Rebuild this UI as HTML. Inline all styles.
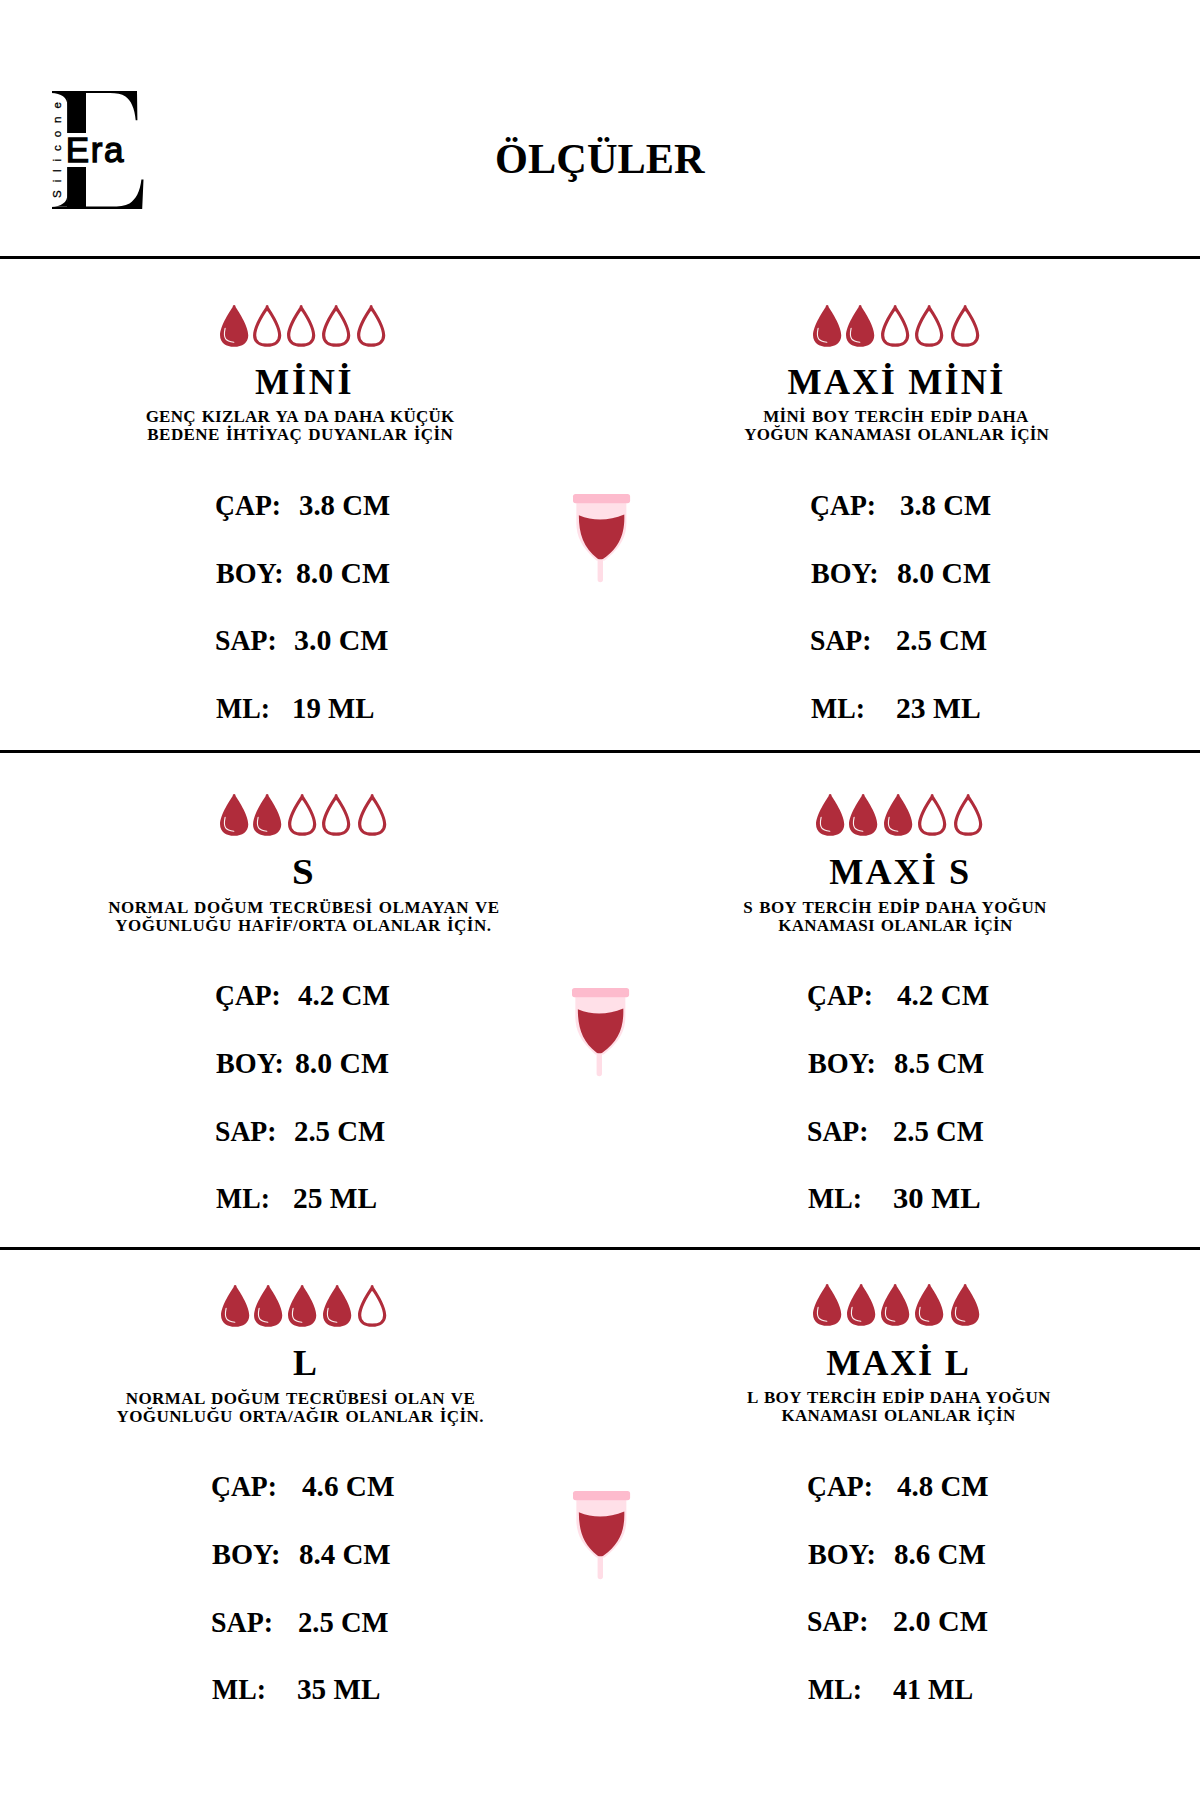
<!DOCTYPE html><html lang="tr"><head><meta charset="utf-8"><title>Ölçüler</title><style>
html,body{margin:0;padding:0;background:#fff}
body{width:1200px;height:1800px;position:relative;overflow:hidden;font-family:"Liberation Serif",serif;color:#000}
.a{position:absolute;display:block}
.x{position:absolute;white-space:pre;font-weight:bold;line-height:1;transform-origin:0 0;color:#000;margin:0;padding:0}
h1,h2,p,dl,dt,dd{margin:0;padding:0}
.ln{position:absolute;left:0;width:1200px;height:3px;background:#000}
</style></head><body>
<header>
<div class="a" id="logo" style="left:0;top:0;width:200px;height:240px">
<div class="a" id="bigE" style="left:44.2px;top:59.2px;width:37.3px;height:180px;overflow:hidden;font:normal 180px/1 'Liberation Serif',serif;transform-origin:0 0;transform:scaleX(1.138);white-space:pre">E</div>
<div class="a" style="left:48px;top:93.2px;width:19.4px;height:8px;background:#fff"></div>
<div class="a" style="left:47px;top:88px;width:4.5px;height:124px;background:#fff"></div>
<div class="a" style="left:48px;top:198.5px;width:19.4px;height:8.1px;background:#fff"></div>
<svg class="a" style="left:40px;top:80px" width="120" height="140" viewBox="40 80 120 140">
<path d="M86 91 H137 L137.4 120.3 H135.7 C134.6 108.5 131 100.5 125.5 96.6 C121.5 93.9 116.5 93.1 110 93.1 H86 Z" fill="#000"/>
<path d="M86 208.9 H142.2 L143.5 179.6 H141.4 C140 191.5 136 199.5 129.5 203.4 C125 205.9 119 206.6 111 206.6 H86 Z" fill="#000"/>
<path d="M51.4 93 C61 93.4 67.5 97 67.5 106 V93 Z M51.4 206.8 C61 206.4 67.5 203 67.5 194 V206.8 Z" fill="#000"/>
</svg>
<div class="a" style="left:60px;top:133.2px;width:100px;height:34.3px;background:#fff"></div>
<div class="a" id="era" style="left:65.8px;top:132.4px;font:normal 35px/1 'Liberation Sans',sans-serif;white-space:pre;-webkit-text-stroke:1.3px #000;letter-spacing:1.6px">Era</div>
<div class="a" id="sil" style="left:51px;top:198.2px;font:normal 11.6px/1 'Liberation Sans',sans-serif;white-space:pre;letter-spacing:7.9px;-webkit-text-stroke:.3px #000;transform-origin:0 0;transform:rotate(-90deg)">Silicone</div>
</div>
<h1 class="x" style="left:495.00px;top:137.97px;font-size:42.3px;letter-spacing:0.083px">ÖLÇÜLER</h1>
</header>
<main>
<div class="ln" style="top:256.3px"></div>
<section class="row">
<article class="size">
<div class="drops"><svg class="a" style="left:218.85px;top:304.00px" width="30.3" height="44.4" viewBox="-1 -1 30.3 44.4"><path d="M14.15 0 C17.7 5.0 28.25 20.52 28.25 30.46 C28.25 37.69 22.24 41.8 14.15 41.8 C6.06 41.8 0.05 37.69 0.05 30.46 C0.05 20.52 10.6 5.0 14.15 0 Z M14.15 0.1 a1.45 1.45 0 1 1 -0.01 0 Z" fill="#b02c3b"/><path d="M5.1 23.3 C4.3 27 3.9 31.3 5.7 33.9 C7.4 36.2 10.5 36.8 13.8 37.3" fill="none" stroke="#fff" stroke-width="1.15" stroke-linecap="round" opacity=".93"/></svg><svg class="a" style="left:252.35px;top:304.00px" width="30.3" height="44.4" viewBox="-1 -1 30.3 44.4"><clipPath id="dc2"><path d="M14.15 0 C17.7 5.0 28.25 20.52 28.25 30.46 C28.25 37.69 22.24 41.8 14.15 41.8 C6.06 41.8 0.05 37.69 0.05 30.46 C0.05 20.52 10.6 5.0 14.15 0 Z M14.15 0.1 a1.45 1.45 0 1 1 -0.01 0 Z"/></clipPath><path d="M14.15 0 C17.7 5.0 28.25 20.52 28.25 30.46 C28.25 37.69 22.24 41.8 14.15 41.8 C6.06 41.8 0.05 37.69 0.05 30.46 C0.05 20.52 10.6 5.0 14.15 0 Z M14.15 0.1 a1.45 1.45 0 1 1 -0.01 0 Z" fill="none" stroke="#b02c3b" stroke-width="6.4" clip-path="url(#dc2)"/></svg><svg class="a" style="left:286.45px;top:304.00px" width="30.3" height="44.4" viewBox="-1 -1 30.3 44.4"><clipPath id="dc3"><path d="M14.15 0 C17.7 5.0 28.25 20.52 28.25 30.46 C28.25 37.69 22.24 41.8 14.15 41.8 C6.06 41.8 0.05 37.69 0.05 30.46 C0.05 20.52 10.6 5.0 14.15 0 Z M14.15 0.1 a1.45 1.45 0 1 1 -0.01 0 Z"/></clipPath><path d="M14.15 0 C17.7 5.0 28.25 20.52 28.25 30.46 C28.25 37.69 22.24 41.8 14.15 41.8 C6.06 41.8 0.05 37.69 0.05 30.46 C0.05 20.52 10.6 5.0 14.15 0 Z M14.15 0.1 a1.45 1.45 0 1 1 -0.01 0 Z" fill="none" stroke="#b02c3b" stroke-width="6.4" clip-path="url(#dc3)"/></svg><svg class="a" style="left:320.95px;top:304.00px" width="30.3" height="44.4" viewBox="-1 -1 30.3 44.4"><clipPath id="dc4"><path d="M14.15 0 C17.7 5.0 28.25 20.52 28.25 30.46 C28.25 37.69 22.24 41.8 14.15 41.8 C6.06 41.8 0.05 37.69 0.05 30.46 C0.05 20.52 10.6 5.0 14.15 0 Z M14.15 0.1 a1.45 1.45 0 1 1 -0.01 0 Z"/></clipPath><path d="M14.15 0 C17.7 5.0 28.25 20.52 28.25 30.46 C28.25 37.69 22.24 41.8 14.15 41.8 C6.06 41.8 0.05 37.69 0.05 30.46 C0.05 20.52 10.6 5.0 14.15 0 Z M14.15 0.1 a1.45 1.45 0 1 1 -0.01 0 Z" fill="none" stroke="#b02c3b" stroke-width="6.4" clip-path="url(#dc4)"/></svg><svg class="a" style="left:356.45px;top:304.00px" width="30.3" height="44.4" viewBox="-1 -1 30.3 44.4"><clipPath id="dc5"><path d="M14.15 0 C17.7 5.0 28.25 20.52 28.25 30.46 C28.25 37.69 22.24 41.8 14.15 41.8 C6.06 41.8 0.05 37.69 0.05 30.46 C0.05 20.52 10.6 5.0 14.15 0 Z M14.15 0.1 a1.45 1.45 0 1 1 -0.01 0 Z"/></clipPath><path d="M14.15 0 C17.7 5.0 28.25 20.52 28.25 30.46 C28.25 37.69 22.24 41.8 14.15 41.8 C6.06 41.8 0.05 37.69 0.05 30.46 C0.05 20.52 10.6 5.0 14.15 0 Z M14.15 0.1 a1.45 1.45 0 1 1 -0.01 0 Z" fill="none" stroke="#b02c3b" stroke-width="6.4" clip-path="url(#dc5)"/></svg></div>
<h2 class="x" style="left:255.00px;top:363.98px;font-size:36.2px;letter-spacing:2.750px">MİNİ</h2>
<p class="x" style="left:145.65px;top:408.06px;font-size:17.0px;letter-spacing:0.226px;word-spacing:1.5px">GENÇ KIZLAR YA DA DAHA KÜÇÜK</p>
<p class="x" style="left:147.35px;top:425.56px;font-size:17.0px;letter-spacing:0.431px;word-spacing:1.5px">BEDENE İHTİYAÇ DUYANLAR İÇİN</p>
<dl>
<dt class="x" style="left:215.08px;top:491.05px;font-size:29.2px;transform:scaleX(0.9466)">ÇAP:</dt><dd class="x" style="left:298.61px;top:491.05px;font-size:29.2px;transform:scaleX(0.9856)">3.8 CM</dd>
<dt class="x" style="left:216.02px;top:558.54px;font-size:29.2px;transform:scaleX(0.9621)">BOY:</dt><dd class="x" style="left:295.58px;top:558.54px;font-size:29.2px;transform:scaleX(1.0188)">8.0 CM</dd>
<dt class="x" style="left:215.07px;top:626.25px;font-size:29.2px;transform:scaleX(0.9514)">SAP:</dt><dd class="x" style="left:294.28px;top:626.25px;font-size:29.2px;transform:scaleX(1.0232)">3.0 CM</dd>
<dt class="x" style="left:216.02px;top:693.85px;font-size:29.2px;transform:scaleX(0.9533)">ML:</dt><dd class="x" style="left:292.18px;top:693.85px;font-size:29.2px;transform:scaleX(0.9863)">19 ML</dd>
</dl>
</article>
<svg class="a" style="left:571.90px;top:492.75px" width="60" height="92" viewBox="-1 -1 60 92">
<path d="M24.6 63 H30 V85.6 A2.7 2.7 0 0 1 24.6 85.6 Z" fill="#ffdde6"/>
<path d="M3.35 8 V29 C3.5 42 8 53 23.5 66.6 H31.5 C48.5 53 53.2 42 53.35 29 V8 Z" fill="#ffe0e8"/>
<path d="M5.85 21.25 C13 24.3 20 25.4 27.1 25.4 C35 25.4 43 23.8 51.3 20.4 C52 40 46.5 53 30.6 64.6 Q30 65.2 29 65.2 H26 Q25 65.2 24.4 64.6 C10.5 53.5 5.8 40 5.85 21.25 Z" fill="#b02c3b"/>
<rect x="0" y="0" width="57.1" height="9.2" rx="2.6" fill="#fdbbcd"/>
</svg>
<article class="size">
<div class="drops"><svg class="a" style="left:811.85px;top:304.00px" width="30.3" height="44.4" viewBox="-1 -1 30.3 44.4"><path d="M14.15 0 C17.7 5.0 28.25 20.52 28.25 30.46 C28.25 37.69 22.24 41.8 14.15 41.8 C6.06 41.8 0.05 37.69 0.05 30.46 C0.05 20.52 10.6 5.0 14.15 0 Z M14.15 0.1 a1.45 1.45 0 1 1 -0.01 0 Z" fill="#b02c3b"/><path d="M5.1 23.3 C4.3 27 3.9 31.3 5.7 33.9 C7.4 36.2 10.5 36.8 13.8 37.3" fill="none" stroke="#fff" stroke-width="1.15" stroke-linecap="round" opacity=".93"/></svg><svg class="a" style="left:845.35px;top:304.00px" width="30.3" height="44.4" viewBox="-1 -1 30.3 44.4"><path d="M14.15 0 C17.7 5.0 28.25 20.52 28.25 30.46 C28.25 37.69 22.24 41.8 14.15 41.8 C6.06 41.8 0.05 37.69 0.05 30.46 C0.05 20.52 10.6 5.0 14.15 0 Z M14.15 0.1 a1.45 1.45 0 1 1 -0.01 0 Z" fill="#b02c3b"/><path d="M5.1 23.3 C4.3 27 3.9 31.3 5.7 33.9 C7.4 36.2 10.5 36.8 13.8 37.3" fill="none" stroke="#fff" stroke-width="1.15" stroke-linecap="round" opacity=".93"/></svg><svg class="a" style="left:879.55px;top:304.00px" width="30.3" height="44.4" viewBox="-1 -1 30.3 44.4"><clipPath id="dc8"><path d="M14.15 0 C17.7 5.0 28.25 20.52 28.25 30.46 C28.25 37.69 22.24 41.8 14.15 41.8 C6.06 41.8 0.05 37.69 0.05 30.46 C0.05 20.52 10.6 5.0 14.15 0 Z M14.15 0.1 a1.45 1.45 0 1 1 -0.01 0 Z"/></clipPath><path d="M14.15 0 C17.7 5.0 28.25 20.52 28.25 30.46 C28.25 37.69 22.24 41.8 14.15 41.8 C6.06 41.8 0.05 37.69 0.05 30.46 C0.05 20.52 10.6 5.0 14.15 0 Z M14.15 0.1 a1.45 1.45 0 1 1 -0.01 0 Z" fill="none" stroke="#b02c3b" stroke-width="6.4" clip-path="url(#dc8)"/></svg><svg class="a" style="left:913.75px;top:304.00px" width="30.3" height="44.4" viewBox="-1 -1 30.3 44.4"><clipPath id="dc9"><path d="M14.15 0 C17.7 5.0 28.25 20.52 28.25 30.46 C28.25 37.69 22.24 41.8 14.15 41.8 C6.06 41.8 0.05 37.69 0.05 30.46 C0.05 20.52 10.6 5.0 14.15 0 Z M14.15 0.1 a1.45 1.45 0 1 1 -0.01 0 Z"/></clipPath><path d="M14.15 0 C17.7 5.0 28.25 20.52 28.25 30.46 C28.25 37.69 22.24 41.8 14.15 41.8 C6.06 41.8 0.05 37.69 0.05 30.46 C0.05 20.52 10.6 5.0 14.15 0 Z M14.15 0.1 a1.45 1.45 0 1 1 -0.01 0 Z" fill="none" stroke="#b02c3b" stroke-width="6.4" clip-path="url(#dc9)"/></svg><svg class="a" style="left:949.55px;top:304.00px" width="30.3" height="44.4" viewBox="-1 -1 30.3 44.4"><clipPath id="dc10"><path d="M14.15 0 C17.7 5.0 28.25 20.52 28.25 30.46 C28.25 37.69 22.24 41.8 14.15 41.8 C6.06 41.8 0.05 37.69 0.05 30.46 C0.05 20.52 10.6 5.0 14.15 0 Z M14.15 0.1 a1.45 1.45 0 1 1 -0.01 0 Z"/></clipPath><path d="M14.15 0 C17.7 5.0 28.25 20.52 28.25 30.46 C28.25 37.69 22.24 41.8 14.15 41.8 C6.06 41.8 0.05 37.69 0.05 30.46 C0.05 20.52 10.6 5.0 14.15 0 Z M14.15 0.1 a1.45 1.45 0 1 1 -0.01 0 Z" fill="none" stroke="#b02c3b" stroke-width="6.4" clip-path="url(#dc10)"/></svg></div>
<h2 class="x" style="left:787.60px;top:363.78px;font-size:36.2px;letter-spacing:2.206px">MAXİ MİNİ</h2>
<p class="x" style="left:763.15px;top:408.06px;font-size:17.0px;letter-spacing:0.333px;word-spacing:1.5px">MİNİ BOY TERCİH EDİP DAHA</p>
<p class="x" style="left:744.25px;top:425.56px;font-size:17.0px;letter-spacing:0.263px;word-spacing:1.5px">YOĞUN KANAMASI OLANLAR İÇİN</p>
<dl>
<dt class="x" style="left:810.38px;top:491.05px;font-size:29.2px;transform:scaleX(0.9466)">ÇAP:</dt><dd class="x" style="left:899.91px;top:491.05px;font-size:29.2px;transform:scaleX(0.9867)">3.8 CM</dd>
<dt class="x" style="left:811.32px;top:558.54px;font-size:29.2px;transform:scaleX(0.9621)">BOY:</dt><dd class="x" style="left:897.18px;top:558.54px;font-size:29.2px;transform:scaleX(1.0166)">8.0 CM</dd>
<dt class="x" style="left:810.38px;top:626.25px;font-size:29.2px;transform:scaleX(0.9481)">SAP:</dt><dd class="x" style="left:896.07px;top:626.25px;font-size:29.2px;transform:scaleX(0.9850)">2.5 CM</dd>
<dt class="x" style="left:811.32px;top:693.85px;font-size:29.2px;transform:scaleX(0.9533)">ML:</dt><dd class="x" style="left:895.63px;top:693.85px;font-size:29.2px;transform:scaleX(1.0160)">23 ML</dd>
</dl>
</article>
</section>
<div class="ln" style="top:750.0px"></div>
<section class="row">
<article class="size">
<div class="drops"><svg class="a" style="left:219.05px;top:793.30px" width="30.3" height="44.4" viewBox="-1 -1 30.3 44.4"><path d="M14.15 0 C17.7 5.0 28.25 20.52 28.25 30.46 C28.25 37.69 22.24 41.8 14.15 41.8 C6.06 41.8 0.05 37.69 0.05 30.46 C0.05 20.52 10.6 5.0 14.15 0 Z M14.15 0.1 a1.45 1.45 0 1 1 -0.01 0 Z" fill="#b02c3b"/><path d="M5.1 23.3 C4.3 27 3.9 31.3 5.7 33.9 C7.4 36.2 10.5 36.8 13.8 37.3" fill="none" stroke="#fff" stroke-width="1.15" stroke-linecap="round" opacity=".93"/></svg><svg class="a" style="left:252.35px;top:793.30px" width="30.3" height="44.4" viewBox="-1 -1 30.3 44.4"><path d="M14.15 0 C17.7 5.0 28.25 20.52 28.25 30.46 C28.25 37.69 22.24 41.8 14.15 41.8 C6.06 41.8 0.05 37.69 0.05 30.46 C0.05 20.52 10.6 5.0 14.15 0 Z M14.15 0.1 a1.45 1.45 0 1 1 -0.01 0 Z" fill="#b02c3b"/><path d="M5.1 23.3 C4.3 27 3.9 31.3 5.7 33.9 C7.4 36.2 10.5 36.8 13.8 37.3" fill="none" stroke="#fff" stroke-width="1.15" stroke-linecap="round" opacity=".93"/></svg><svg class="a" style="left:286.85px;top:793.30px" width="30.3" height="44.4" viewBox="-1 -1 30.3 44.4"><clipPath id="dc13"><path d="M14.15 0 C17.7 5.0 28.25 20.52 28.25 30.46 C28.25 37.69 22.24 41.8 14.15 41.8 C6.06 41.8 0.05 37.69 0.05 30.46 C0.05 20.52 10.6 5.0 14.15 0 Z M14.15 0.1 a1.45 1.45 0 1 1 -0.01 0 Z"/></clipPath><path d="M14.15 0 C17.7 5.0 28.25 20.52 28.25 30.46 C28.25 37.69 22.24 41.8 14.15 41.8 C6.06 41.8 0.05 37.69 0.05 30.46 C0.05 20.52 10.6 5.0 14.15 0 Z M14.15 0.1 a1.45 1.45 0 1 1 -0.01 0 Z" fill="none" stroke="#b02c3b" stroke-width="6.4" clip-path="url(#dc13)"/></svg><svg class="a" style="left:321.05px;top:793.30px" width="30.3" height="44.4" viewBox="-1 -1 30.3 44.4"><clipPath id="dc14"><path d="M14.15 0 C17.7 5.0 28.25 20.52 28.25 30.46 C28.25 37.69 22.24 41.8 14.15 41.8 C6.06 41.8 0.05 37.69 0.05 30.46 C0.05 20.52 10.6 5.0 14.15 0 Z M14.15 0.1 a1.45 1.45 0 1 1 -0.01 0 Z"/></clipPath><path d="M14.15 0 C17.7 5.0 28.25 20.52 28.25 30.46 C28.25 37.69 22.24 41.8 14.15 41.8 C6.06 41.8 0.05 37.69 0.05 30.46 C0.05 20.52 10.6 5.0 14.15 0 Z M14.15 0.1 a1.45 1.45 0 1 1 -0.01 0 Z" fill="none" stroke="#b02c3b" stroke-width="6.4" clip-path="url(#dc14)"/></svg><svg class="a" style="left:356.85px;top:793.30px" width="30.3" height="44.4" viewBox="-1 -1 30.3 44.4"><clipPath id="dc15"><path d="M14.15 0 C17.7 5.0 28.25 20.52 28.25 30.46 C28.25 37.69 22.24 41.8 14.15 41.8 C6.06 41.8 0.05 37.69 0.05 30.46 C0.05 20.52 10.6 5.0 14.15 0 Z M14.15 0.1 a1.45 1.45 0 1 1 -0.01 0 Z"/></clipPath><path d="M14.15 0 C17.7 5.0 28.25 20.52 28.25 30.46 C28.25 37.69 22.24 41.8 14.15 41.8 C6.06 41.8 0.05 37.69 0.05 30.46 C0.05 20.52 10.6 5.0 14.15 0 Z M14.15 0.1 a1.45 1.45 0 1 1 -0.01 0 Z" fill="none" stroke="#b02c3b" stroke-width="6.4" clip-path="url(#dc15)"/></svg></div>
<h2 class="x" style="left:292.10px;top:853.88px;font-size:36.2px;transform:scaleX(1.0758)">S</h2>
<p class="x" style="left:108.25px;top:898.76px;font-size:17.0px;letter-spacing:0.514px;word-spacing:1.5px">NORMAL DOĞUM TECRÜBESİ OLMAYAN VE</p>
<p class="x" style="left:115.25px;top:916.76px;font-size:17.0px;letter-spacing:0.455px;word-spacing:1.5px">YOĞUNLUĞU HAFİF/ORTA OLANLAR İÇİN.</p>
<dl>
<dt class="x" style="left:214.68px;top:981.45px;font-size:29.2px;transform:scaleX(0.9435)">ÇAP:</dt><dd class="x" style="left:298.10px;top:981.45px;font-size:29.2px;transform:scaleX(0.9956)">4.2 CM</dd>
<dt class="x" style="left:215.62px;top:1049.25px;font-size:29.2px;transform:scaleX(0.9651)">BOY:</dt><dd class="x" style="left:295.28px;top:1049.25px;font-size:29.2px;transform:scaleX(1.0188)">8.0 CM</dd>
<dt class="x" style="left:214.68px;top:1116.75px;font-size:29.2px;transform:scaleX(0.9481)">SAP:</dt><dd class="x" style="left:293.57px;top:1116.75px;font-size:29.2px;transform:scaleX(0.9873)">2.5 CM</dd>
<dt class="x" style="left:215.63px;top:1184.25px;font-size:29.2px;transform:scaleX(0.9495)">ML:</dt><dd class="x" style="left:293.14px;top:1184.25px;font-size:29.2px;transform:scaleX(1.0074)">25 ML</dd>
</dl>
</article>
<svg class="a" style="left:571.00px;top:986.90px" width="60" height="92" viewBox="-1 -1 60 92">
<path d="M24.6 63 H30 V85.6 A2.7 2.7 0 0 1 24.6 85.6 Z" fill="#ffdde6"/>
<path d="M3.35 8 V29 C3.5 42 8 53 23.5 66.6 H31.5 C48.5 53 53.2 42 53.35 29 V8 Z" fill="#ffe0e8"/>
<path d="M5.85 21.25 C13 24.3 20 25.4 27.1 25.4 C35 25.4 43 23.8 51.3 20.4 C52 40 46.5 53 30.6 64.6 Q30 65.2 29 65.2 H26 Q25 65.2 24.4 64.6 C10.5 53.5 5.8 40 5.85 21.25 Z" fill="#b02c3b"/>
<rect x="0" y="0" width="57.1" height="9.2" rx="2.6" fill="#fdbbcd"/>
</svg>
<article class="size">
<div class="drops"><svg class="a" style="left:814.85px;top:793.30px" width="30.3" height="44.4" viewBox="-1 -1 30.3 44.4"><path d="M14.15 0 C17.7 5.0 28.25 20.52 28.25 30.46 C28.25 37.69 22.24 41.8 14.15 41.8 C6.06 41.8 0.05 37.69 0.05 30.46 C0.05 20.52 10.6 5.0 14.15 0 Z M14.15 0.1 a1.45 1.45 0 1 1 -0.01 0 Z" fill="#b02c3b"/><path d="M5.1 23.3 C4.3 27 3.9 31.3 5.7 33.9 C7.4 36.2 10.5 36.8 13.8 37.3" fill="none" stroke="#fff" stroke-width="1.15" stroke-linecap="round" opacity=".93"/></svg><svg class="a" style="left:848.15px;top:793.30px" width="30.3" height="44.4" viewBox="-1 -1 30.3 44.4"><path d="M14.15 0 C17.7 5.0 28.25 20.52 28.25 30.46 C28.25 37.69 22.24 41.8 14.15 41.8 C6.06 41.8 0.05 37.69 0.05 30.46 C0.05 20.52 10.6 5.0 14.15 0 Z M14.15 0.1 a1.45 1.45 0 1 1 -0.01 0 Z" fill="#b02c3b"/><path d="M5.1 23.3 C4.3 27 3.9 31.3 5.7 33.9 C7.4 36.2 10.5 36.8 13.8 37.3" fill="none" stroke="#fff" stroke-width="1.15" stroke-linecap="round" opacity=".93"/></svg><svg class="a" style="left:882.65px;top:793.30px" width="30.3" height="44.4" viewBox="-1 -1 30.3 44.4"><path d="M14.15 0 C17.7 5.0 28.25 20.52 28.25 30.46 C28.25 37.69 22.24 41.8 14.15 41.8 C6.06 41.8 0.05 37.69 0.05 30.46 C0.05 20.52 10.6 5.0 14.15 0 Z M14.15 0.1 a1.45 1.45 0 1 1 -0.01 0 Z" fill="#b02c3b"/><path d="M5.1 23.3 C4.3 27 3.9 31.3 5.7 33.9 C7.4 36.2 10.5 36.8 13.8 37.3" fill="none" stroke="#fff" stroke-width="1.15" stroke-linecap="round" opacity=".93"/></svg><svg class="a" style="left:916.85px;top:793.30px" width="30.3" height="44.4" viewBox="-1 -1 30.3 44.4"><clipPath id="dc19"><path d="M14.15 0 C17.7 5.0 28.25 20.52 28.25 30.46 C28.25 37.69 22.24 41.8 14.15 41.8 C6.06 41.8 0.05 37.69 0.05 30.46 C0.05 20.52 10.6 5.0 14.15 0 Z M14.15 0.1 a1.45 1.45 0 1 1 -0.01 0 Z"/></clipPath><path d="M14.15 0 C17.7 5.0 28.25 20.52 28.25 30.46 C28.25 37.69 22.24 41.8 14.15 41.8 C6.06 41.8 0.05 37.69 0.05 30.46 C0.05 20.52 10.6 5.0 14.15 0 Z M14.15 0.1 a1.45 1.45 0 1 1 -0.01 0 Z" fill="none" stroke="#b02c3b" stroke-width="6.4" clip-path="url(#dc19)"/></svg><svg class="a" style="left:952.65px;top:793.30px" width="30.3" height="44.4" viewBox="-1 -1 30.3 44.4"><clipPath id="dc20"><path d="M14.15 0 C17.7 5.0 28.25 20.52 28.25 30.46 C28.25 37.69 22.24 41.8 14.15 41.8 C6.06 41.8 0.05 37.69 0.05 30.46 C0.05 20.52 10.6 5.0 14.15 0 Z M14.15 0.1 a1.45 1.45 0 1 1 -0.01 0 Z"/></clipPath><path d="M14.15 0 C17.7 5.0 28.25 20.52 28.25 30.46 C28.25 37.69 22.24 41.8 14.15 41.8 C6.06 41.8 0.05 37.69 0.05 30.46 C0.05 20.52 10.6 5.0 14.15 0 Z M14.15 0.1 a1.45 1.45 0 1 1 -0.01 0 Z" fill="none" stroke="#b02c3b" stroke-width="6.4" clip-path="url(#dc20)"/></svg></div>
<h2 class="x" style="left:829.30px;top:853.88px;font-size:36.2px;letter-spacing:2.010px">MAXİ S</h2>
<p class="x" style="left:743.20px;top:898.76px;font-size:17.0px;letter-spacing:0.391px;word-spacing:1.5px">S BOY TERCİH EDİP DAHA YOĞUN</p>
<p class="x" style="left:778.25px;top:916.76px;font-size:17.0px;letter-spacing:0.263px;word-spacing:1.5px">KANAMASI OLANLAR İÇİN</p>
<dl>
<dt class="x" style="left:806.98px;top:981.45px;font-size:29.2px;transform:scaleX(0.9450)">ÇAP:</dt><dd class="x" style="left:896.80px;top:981.45px;font-size:29.2px;transform:scaleX(0.9967)">4.2 CM</dd>
<dt class="x" style="left:807.92px;top:1049.25px;font-size:29.2px;transform:scaleX(0.9665)">BOY:</dt><dd class="x" style="left:894.02px;top:1049.25px;font-size:29.2px;transform:scaleX(0.9768)">8.5 CM</dd>
<dt class="x" style="left:806.98px;top:1116.75px;font-size:29.2px;transform:scaleX(0.9481)">SAP:</dt><dd class="x" style="left:892.87px;top:1116.75px;font-size:29.2px;transform:scaleX(0.9839)">2.5 CM</dd>
<dt class="x" style="left:807.92px;top:1184.25px;font-size:29.2px;transform:scaleX(0.9514)">ML:</dt><dd class="x" style="left:892.55px;top:1184.25px;font-size:29.2px;transform:scaleX(1.0486)">30 ML</dd>
</dl>
</article>
</section>
<div class="ln" style="top:1247.0px"></div>
<section class="row">
<article class="size">
<div class="drops"><svg class="a" style="left:219.55px;top:1284.00px" width="30.3" height="44.4" viewBox="-1 -1 30.3 44.4"><path d="M14.15 0 C17.7 5.0 28.25 20.52 28.25 30.46 C28.25 37.69 22.24 41.8 14.15 41.8 C6.06 41.8 0.05 37.69 0.05 30.46 C0.05 20.52 10.6 5.0 14.15 0 Z M14.15 0.1 a1.45 1.45 0 1 1 -0.01 0 Z" fill="#b02c3b"/><path d="M5.1 23.3 C4.3 27 3.9 31.3 5.7 33.9 C7.4 36.2 10.5 36.8 13.8 37.3" fill="none" stroke="#fff" stroke-width="1.15" stroke-linecap="round" opacity=".93"/></svg><svg class="a" style="left:252.85px;top:1284.00px" width="30.3" height="44.4" viewBox="-1 -1 30.3 44.4"><path d="M14.15 0 C17.7 5.0 28.25 20.52 28.25 30.46 C28.25 37.69 22.24 41.8 14.15 41.8 C6.06 41.8 0.05 37.69 0.05 30.46 C0.05 20.52 10.6 5.0 14.15 0 Z M14.15 0.1 a1.45 1.45 0 1 1 -0.01 0 Z" fill="#b02c3b"/><path d="M5.1 23.3 C4.3 27 3.9 31.3 5.7 33.9 C7.4 36.2 10.5 36.8 13.8 37.3" fill="none" stroke="#fff" stroke-width="1.15" stroke-linecap="round" opacity=".93"/></svg><svg class="a" style="left:287.35px;top:1284.00px" width="30.3" height="44.4" viewBox="-1 -1 30.3 44.4"><path d="M14.15 0 C17.7 5.0 28.25 20.52 28.25 30.46 C28.25 37.69 22.24 41.8 14.15 41.8 C6.06 41.8 0.05 37.69 0.05 30.46 C0.05 20.52 10.6 5.0 14.15 0 Z M14.15 0.1 a1.45 1.45 0 1 1 -0.01 0 Z" fill="#b02c3b"/><path d="M5.1 23.3 C4.3 27 3.9 31.3 5.7 33.9 C7.4 36.2 10.5 36.8 13.8 37.3" fill="none" stroke="#fff" stroke-width="1.15" stroke-linecap="round" opacity=".93"/></svg><svg class="a" style="left:321.55px;top:1284.00px" width="30.3" height="44.4" viewBox="-1 -1 30.3 44.4"><path d="M14.15 0 C17.7 5.0 28.25 20.52 28.25 30.46 C28.25 37.69 22.24 41.8 14.15 41.8 C6.06 41.8 0.05 37.69 0.05 30.46 C0.05 20.52 10.6 5.0 14.15 0 Z M14.15 0.1 a1.45 1.45 0 1 1 -0.01 0 Z" fill="#b02c3b"/><path d="M5.1 23.3 C4.3 27 3.9 31.3 5.7 33.9 C7.4 36.2 10.5 36.8 13.8 37.3" fill="none" stroke="#fff" stroke-width="1.15" stroke-linecap="round" opacity=".93"/></svg><svg class="a" style="left:357.35px;top:1284.00px" width="30.3" height="44.4" viewBox="-1 -1 30.3 44.4"><clipPath id="dc25"><path d="M14.15 0 C17.7 5.0 28.25 20.52 28.25 30.46 C28.25 37.69 22.24 41.8 14.15 41.8 C6.06 41.8 0.05 37.69 0.05 30.46 C0.05 20.52 10.6 5.0 14.15 0 Z M14.15 0.1 a1.45 1.45 0 1 1 -0.01 0 Z"/></clipPath><path d="M14.15 0 C17.7 5.0 28.25 20.52 28.25 30.46 C28.25 37.69 22.24 41.8 14.15 41.8 C6.06 41.8 0.05 37.69 0.05 30.46 C0.05 20.52 10.6 5.0 14.15 0 Z M14.15 0.1 a1.45 1.45 0 1 1 -0.01 0 Z" fill="none" stroke="#b02c3b" stroke-width="6.4" clip-path="url(#dc25)"/></svg></div>
<h2 class="x" style="left:292.50px;top:1344.98px;font-size:36.2px;transform:scaleX(0.9909)">L</h2>
<p class="x" style="left:125.75px;top:1390.26px;font-size:17.0px;letter-spacing:0.422px;word-spacing:1.5px">NORMAL DOĞUM TECRÜBESİ OLAN VE</p>
<p class="x" style="left:116.45px;top:1407.96px;font-size:17.0px;letter-spacing:0.438px;word-spacing:1.5px">YOĞUNLUĞU ORTA/AĞIR OLANLAR İÇİN.</p>
<dl>
<dt class="x" style="left:211.48px;top:1472.45px;font-size:29.2px;transform:scaleX(0.9450)">ÇAP:</dt><dd class="x" style="left:301.80px;top:1472.45px;font-size:29.2px;transform:scaleX(1.0011)">4.6 CM</dd>
<dt class="x" style="left:212.41px;top:1540.25px;font-size:29.2px;transform:scaleX(0.9725)">BOY:</dt><dd class="x" style="left:298.61px;top:1540.25px;font-size:29.2px;transform:scaleX(0.9923)">8.4 CM</dd>
<dt class="x" style="left:211.47px;top:1607.65px;font-size:29.2px;transform:scaleX(0.9564)">SAP:</dt><dd class="x" style="left:297.78px;top:1607.65px;font-size:29.2px;transform:scaleX(0.9795)">2.5 CM</dd>
<dt class="x" style="left:212.42px;top:1675.15px;font-size:29.2px;transform:scaleX(0.9514)">ML:</dt><dd class="x" style="left:297.10px;top:1675.15px;font-size:29.2px;transform:scaleX(0.9994)">35 ML</dd>
</dl>
</article>
<svg class="a" style="left:571.90px;top:1490.25px" width="60" height="92" viewBox="-1 -1 60 92">
<path d="M24.6 63 H30 V85.6 A2.7 2.7 0 0 1 24.6 85.6 Z" fill="#ffdde6"/>
<path d="M3.35 8 V29 C3.5 42 8 53 23.5 66.6 H31.5 C48.5 53 53.2 42 53.35 29 V8 Z" fill="#ffe0e8"/>
<path d="M5.85 21.25 C13 24.3 20 25.4 27.1 25.4 C35 25.4 43 23.8 51.3 20.4 C52 40 46.5 53 30.6 64.6 Q30 65.2 29 65.2 H26 Q25 65.2 24.4 64.6 C10.5 53.5 5.8 40 5.85 21.25 Z" fill="#b02c3b"/>
<rect x="0" y="0" width="57.1" height="9.2" rx="2.6" fill="#fdbbcd"/>
</svg>
<article class="size">
<div class="drops"><svg class="a" style="left:812.35px;top:1283.40px" width="30.3" height="44.4" viewBox="-1 -1 30.3 44.4"><path d="M14.15 0 C17.7 5.0 28.25 20.52 28.25 30.46 C28.25 37.69 22.24 41.8 14.15 41.8 C6.06 41.8 0.05 37.69 0.05 30.46 C0.05 20.52 10.6 5.0 14.15 0 Z M14.15 0.1 a1.45 1.45 0 1 1 -0.01 0 Z" fill="#b02c3b"/><path d="M5.1 23.3 C4.3 27 3.9 31.3 5.7 33.9 C7.4 36.2 10.5 36.8 13.8 37.3" fill="none" stroke="#fff" stroke-width="1.15" stroke-linecap="round" opacity=".93"/></svg><svg class="a" style="left:845.65px;top:1283.40px" width="30.3" height="44.4" viewBox="-1 -1 30.3 44.4"><path d="M14.15 0 C17.7 5.0 28.25 20.52 28.25 30.46 C28.25 37.69 22.24 41.8 14.15 41.8 C6.06 41.8 0.05 37.69 0.05 30.46 C0.05 20.52 10.6 5.0 14.15 0 Z M14.15 0.1 a1.45 1.45 0 1 1 -0.01 0 Z" fill="#b02c3b"/><path d="M5.1 23.3 C4.3 27 3.9 31.3 5.7 33.9 C7.4 36.2 10.5 36.8 13.8 37.3" fill="none" stroke="#fff" stroke-width="1.15" stroke-linecap="round" opacity=".93"/></svg><svg class="a" style="left:880.15px;top:1283.40px" width="30.3" height="44.4" viewBox="-1 -1 30.3 44.4"><path d="M14.15 0 C17.7 5.0 28.25 20.52 28.25 30.46 C28.25 37.69 22.24 41.8 14.15 41.8 C6.06 41.8 0.05 37.69 0.05 30.46 C0.05 20.52 10.6 5.0 14.15 0 Z M14.15 0.1 a1.45 1.45 0 1 1 -0.01 0 Z" fill="#b02c3b"/><path d="M5.1 23.3 C4.3 27 3.9 31.3 5.7 33.9 C7.4 36.2 10.5 36.8 13.8 37.3" fill="none" stroke="#fff" stroke-width="1.15" stroke-linecap="round" opacity=".93"/></svg><svg class="a" style="left:914.35px;top:1283.40px" width="30.3" height="44.4" viewBox="-1 -1 30.3 44.4"><path d="M14.15 0 C17.7 5.0 28.25 20.52 28.25 30.46 C28.25 37.69 22.24 41.8 14.15 41.8 C6.06 41.8 0.05 37.69 0.05 30.46 C0.05 20.52 10.6 5.0 14.15 0 Z M14.15 0.1 a1.45 1.45 0 1 1 -0.01 0 Z" fill="#b02c3b"/><path d="M5.1 23.3 C4.3 27 3.9 31.3 5.7 33.9 C7.4 36.2 10.5 36.8 13.8 37.3" fill="none" stroke="#fff" stroke-width="1.15" stroke-linecap="round" opacity=".93"/></svg><svg class="a" style="left:950.15px;top:1283.40px" width="30.3" height="44.4" viewBox="-1 -1 30.3 44.4"><path d="M14.15 0 C17.7 5.0 28.25 20.52 28.25 30.46 C28.25 37.69 22.24 41.8 14.15 41.8 C6.06 41.8 0.05 37.69 0.05 30.46 C0.05 20.52 10.6 5.0 14.15 0 Z M14.15 0.1 a1.45 1.45 0 1 1 -0.01 0 Z" fill="#b02c3b"/><path d="M5.1 23.3 C4.3 27 3.9 31.3 5.7 33.9 C7.4 36.2 10.5 36.8 13.8 37.3" fill="none" stroke="#fff" stroke-width="1.15" stroke-linecap="round" opacity=".93"/></svg></div>
<h2 class="x" style="left:826.30px;top:1344.78px;font-size:36.2px;letter-spacing:1.790px">MAXİ L</h2>
<p class="x" style="left:747.05px;top:1388.96px;font-size:17.0px;letter-spacing:0.359px;word-spacing:1.5px">L BOY TERCİH EDİP DAHA YOĞUN</p>
<p class="x" style="left:781.45px;top:1407.46px;font-size:17.0px;letter-spacing:0.252px;word-spacing:1.5px">KANAMASI OLANLAR İÇİN</p>
<dl>
<dt class="x" style="left:806.98px;top:1472.05px;font-size:29.2px;transform:scaleX(0.9450)">ÇAP:</dt><dd class="x" style="left:897.30px;top:1472.05px;font-size:29.2px;transform:scaleX(0.9912)">4.8 CM</dd>
<dt class="x" style="left:807.92px;top:1539.85px;font-size:29.2px;transform:scaleX(0.9665)">BOY:</dt><dd class="x" style="left:894.41px;top:1539.85px;font-size:29.2px;transform:scaleX(0.9934)">8.6 CM</dd>
<dt class="x" style="left:806.98px;top:1607.45px;font-size:29.2px;transform:scaleX(0.9481)">SAP:</dt><dd class="x" style="left:892.81px;top:1607.45px;font-size:29.2px;transform:scaleX(1.0305)">2.0 CM</dd>
<dt class="x" style="left:807.92px;top:1675.15px;font-size:29.2px;transform:scaleX(0.9514)">ML:</dt><dd class="x" style="left:892.52px;top:1675.15px;font-size:29.2px;transform:scaleX(0.9602)">41 ML</dd>
</dl>
</article>
</section>
</main>
</body></html>
